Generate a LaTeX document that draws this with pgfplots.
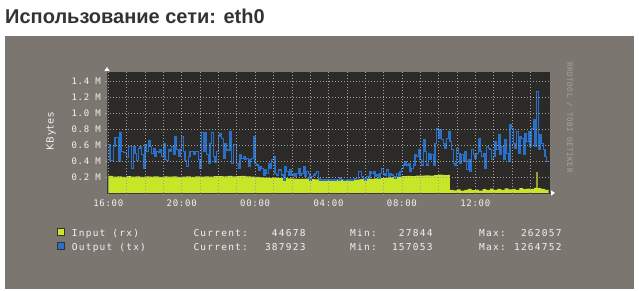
\documentclass[border=0pt]{standalone}
\usepackage{pgfplots}
\pgfplotsset{compat=1.18}
\usepackage{pgfplotstable}
\usepackage{fontspec}
\usetikzlibrary{arrows.meta}
\setmainfont{DejaVu Sans}
\newfontfamily\titlefont{Liberation Sans}
\newfontfamily\labfont{DejaVu Sans}[LetterSpace=10]
\newfontfamily\monoleg{DejaVu Sans Mono}[LetterSpace=13]
\newfontfamily\monotick{DejaVu Sans Mono}[LetterSpace=8]
\newfontfamily\monowm{DejaVu Sans Mono}[LetterSpace=8]
\definecolor{bggray}{RGB}{123,119,112}
\definecolor{plotbg}{RGB}{44,42,41}
\definecolor{rxgreen}{RGB}{200,230,40}
\definecolor{txblue}{RGB}{40,112,200}
\definecolor{txtcol}{RGB}{242,242,242}
\definecolor{wmcol}{RGB}{168,164,156}
\definecolor{gridcol}{RGB}{160,160,160}
\definecolor{axcol}{RGB}{60,60,60}
\definecolor{titlecol}{RGB}{51,51,51}

% Output (tx), MBytes, one sample every 0.09083 h starting at 16:00
\pgfplotstableread{
v
0.60
0.41
0.41
0.58
0.69
0.69
0.39
0.75
0.52
0.50
0.50
0.44
0.58
0.58
0.31
0.58
0.49
0.40
0.56
0.58
0.48
0.31
0.60
0.52
0.66
0.58
0.49
0.56
0.46
0.52
0.50
0.54
0.46
0.62
0.42
0.40
0.54
0.52
0.58
0.48
0.70
0.54
0.46
0.54
0.70
0.52
0.40
0.33
0.46
0.52
0.52
0.48
0.52
0.52
0.42
0.31
0.75
0.52
0.75
0.48
0.37
0.62
0.76
0.46
0.38
0.52
0.70
0.746
0.683
0.433
0.621
0.537
0.537
0.767
0.371
0.60
0.60
0.371
0.308
0.475
0.433
0.454
0.413
0.433
0.329
0.413
0.433
0.704
0.371
0.35
0.287
0.329
0.308
0.225
0.287
0.246
0.371
0.308
0.413
0.454
0.246
0.225
0.287
0.287
0.225
0.162
0.329
0.267
0.225
0.287
0.225
0.246
0.204
0.246
0.308
0.225
0.246
0.329
0.204
0.267
0.246
0.162
0.204
0.225
0.246
0.267
0.183
0.162
0.162
0.162
0.158
0.162
0.158
0.162
0.162
0.158
0.162
0.170
0.162
0.19
0.165
0.160
0.158
0.165
0.160
0.170
0.162
0.165
0.18
0.165
0.267
0.267
0.204
0.183
0.162
0.204
0.183
0.267
0.246
0.267
0.204
0.225
0.183
0.246
0.308
0.246
0.225
0.287
0.204
0.246
0.225
0.204
0.183
0.246
0.204
0.267
0.308
0.35
0.392
0.35
0.371
0.267
0.308
0.35
0.475
0.454
0.537
0.413
0.35
0.662
0.517
0.35
0.496
0.413
0.475
0.35
0.621
0.80
0.683
0.788
0.663
0.621
0.558
0.683
0.767
0.642
0.538
0.371
0.35
0.558
0.496
0.371
0.475
0.392
0.517
0.288
0.413
0.267
0.538
0.475
0.433
0.496
0.683
0.517
0.454
0.496
0.308
0.579
0.558
0.538
0.413
0.454
0.642
0.538
0.725
0.475
0.579
0.413
0.663
0.496
0.392
0.85
0.808
0.621
0.558
0.767
0.496
0.704
0.683
0.475
0.746
0.642
0.767
0.579
0.808
0.913
0.579
1.265
0.538
0.725
0.621
0.538
0.454
0.388
0.388
}\txdata

% Input (rx), MBytes, hours after 16:00
\pgfplotstableread{
h v
0.00 0.215
0.25 0.205
0.50 0.208
0.75 0.200
1.00 0.210
1.25 0.204
1.50 0.206
1.75 0.200
2.00 0.208
2.25 0.203
2.50 0.207
2.75 0.201
3.00 0.206
3.25 0.204
3.50 0.209
3.75 0.202
4.00 0.205
4.25 0.207
4.50 0.201
4.75 0.206
5.00 0.203
5.25 0.208
5.50 0.204
5.75 0.210
6.00 0.212
6.25 0.206
6.50 0.214
6.75 0.208
7.00 0.210
7.25 0.213
7.50 0.207
7.75 0.204
8.00 0.200
8.25 0.196
8.50 0.193
8.75 0.190
9.00 0.192
9.25 0.186
9.50 0.188
9.75 0.183
10.00 0.180
10.25 0.177
10.50 0.175
10.75 0.178
11.00 0.172
11.25 0.170
11.50 0.168
11.75 0.166
12.00 0.167
12.25 0.164
12.50 0.166
12.75 0.163
13.00 0.168
13.25 0.166
13.50 0.170
13.75 0.174
14.00 0.178
14.25 0.176
14.50 0.182
14.75 0.185
15.00 0.190
15.25 0.195
15.50 0.200
15.75 0.205
16.00 0.210
16.25 0.214
16.50 0.212
16.75 0.218
17.00 0.216
17.25 0.220
17.50 0.218
17.75 0.224
18.00 0.228
18.25 0.222
18.50 0.226
18.62 0.040
18.80 0.032
19.00 0.045
19.20 0.030
19.40 0.038
19.60 0.050
19.80 0.035
20.00 0.042
20.20 0.030
20.40 0.048
20.60 0.036
20.80 0.055
21.00 0.040
21.20 0.050
21.40 0.038
21.60 0.058
21.80 0.045
22.00 0.052
22.20 0.040
22.40 0.060
22.60 0.048
22.80 0.055
23.00 0.050
23.20 0.065
23.33 0.262
23.40 0.060
23.60 0.050
23.80 0.040
24.00 0.045
}\rxdata

\begin{document}
\begin{tikzpicture}[x=1pt,y=1pt]
\useasboundingbox (0,0) rectangle (639,290);
\fill[white] (0,0) rectangle (639,290);
\fill[bggray] (5,1) rectangle (634,254);
\node[anchor=base west, inner sep=0pt, text=titlecol,
      font=\titlefont\bfseries\fontsize{20}{22}\selectfont] at (5,266) {Использование сети: eth0};

\begin{axis}[
  at={(107pt,97pt)}, anchor=south west,
  width=443pt, height=121pt, scale only axis,
  xmin=-0.07, xmax=24.07, ymin=0, ymax=1.51,
  axis background/.style={fill=plotbg},
  axis x line=bottom, axis y line=left,
  axis line style={draw=axcol, line width=0.8pt},
  x axis line style={-{Triangle[width=5pt,length=4pt,color=white]}, shorten >=-5pt},
  y axis line style={-{Triangle[width=5pt,length=4pt,color=white]}, shorten >=-5pt},
  xtick={0,4,8,12,16,20},
  xticklabels={16:00,20:00,00:00,04:00,08:00,12:00},
  minor xtick={1,2,3,5,6,7,9,10,11,13,14,15,17,18,19,21,22,23},
  ytick={0.2,0.4,0.6,0.8,1.0,1.2,1.4},
  yticklabels={0.2 M,0.4 M,0.6 M,0.8 M,1.0 M,1.2 M,1.4 M},
  grid=both,
  major grid style={gridcol, line width=0.5pt, dash pattern=on 1pt off 2pt},
  minor grid style={gridcol, line width=0.5pt, dash pattern=on 1pt off 2pt},
  tick style={gridcol, line width=0.5pt},
  tick align=outside, major tick length=2pt, minor tick length=2pt,
  xticklabel style={font=\monotick\fontsize{9}{10}\selectfont, text=txtcol, anchor=north, inner sep=0pt, yshift=-5pt},
  yticklabel style={font=\monotick\fontsize{9}{10}\selectfont, text=txtcol, anchor=east, inner sep=0pt, xshift=-4pt},
  axis on top,
]
\addplot[fill=rxgreen, draw=none, const plot] table[x=h, y=v]{\rxdata} \closedcycle;
\addplot[txblue, line width=1.1pt, const plot] table[x expr=\coordindex*0.09083, y=v]{\txdata};
\end{axis}

\node[rotate=90, font=\labfont\fontsize{9.8}{10}\selectfont, text=txtcol] at (51,158.5) {KBytes};
\node[rotate=-90, font=\monowm\fontsize{7.5}{8}\selectfont, text=wmcol] at (569.5,172.5) {RRDTOOL / TOBI OETIKER};

% legend
\filldraw[fill=rxgreen, draw=black!80, line width=0.8pt] (57,54.5) rectangle (64,61.5);
\filldraw[fill=txblue, draw=black!80, line width=0.8pt] (57,40.5) rectangle (64,47.5);
\begin{scope}[every node/.style={inner sep=0pt, text=txtcol, font=\monoleg\fontsize{9.5}{10}\selectfont}]
\node[anchor=base west] at (71.7,54) {Input (rx)};
\node[anchor=base west] at (71.7,40) {Output (tx)};
\node[anchor=base west] at (193.3,54) {Current:};
\node[anchor=base west] at (193.3,40) {Current:};
\node[anchor=base east] at (305.7,54) {44678};
\node[anchor=base east] at (305.7,40) {387923};
\node[anchor=base west] at (350,54) {Min:};
\node[anchor=base west] at (350,40) {Min:};
\node[anchor=base east] at (432.7,54) {27844};
\node[anchor=base east] at (432.7,40) {157053};
\node[anchor=base west] at (479,54) {Max:};
\node[anchor=base west] at (479,40) {Max:};
\node[anchor=base east] at (561.7,54) {262057};
\node[anchor=base east] at (561.7,40) {1264752};
\end{scope}
\end{tikzpicture}
\end{document}
